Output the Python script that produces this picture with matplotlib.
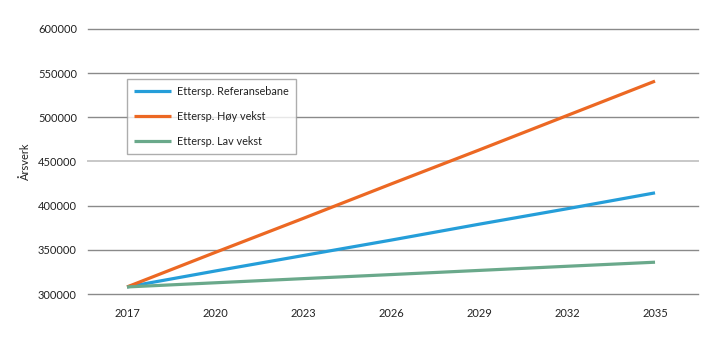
import numpy as np
import matplotlib
matplotlib.use('Agg')
import matplotlib.pyplot as plt

years = [2017, 2020, 2023, 2026, 2029, 2032, 2035]
ref = [308000, 326000, 343500, 361000, 379000, 396500, 414500]
hoy = [308000, 347000, 385500, 424500, 463000, 502000, 541000]
lav = [308000, 312700, 317400, 322000, 326700, 331400, 336000]
labels = ['Ettersp. Referansebane', 'Ettersp. Høy vekst', 'Ettersp. Lav vekst']
colors = ['#259ed9', '#ec6823', '#6aa98b']

plt.rcParams['font.family'] = ['Lato', 'DejaVu Sans']
fig = plt.figure(figsize=(7.19, 3.41), dpi=100)
ax = fig.add_axes([0.1224, 0.1378, 0.8486, 0.7772])

for vals, lab, c in zip([ref, hoy, lav], labels, colors):
    ax.plot(years, vals, color=c, lw=2.3, label=lab, solid_capstyle='butt')

ax.set_ylim(300000, 600000)
ax.set_xlim(2015.67, 2036.47)
ax.set_yticks(np.arange(300000, 600001, 50000))
ax.set_xticks(years)
ax.set_yticklabels([str(v) for v in range(300000, 600001, 50000)])
ax.tick_params(length=0, labelsize=8, colors='#222222')
ax.tick_params(axis='y', pad=8)
ax.tick_params(axis='x', pad=10)
ax.grid(axis='y', color='#8a8a8a', lw=1)
ax.set_axisbelow(True)
for gl in ax.get_ygridlines():
    gl.set_clip_on(False)
ax.get_ygridlines()[3].set_color('#c8c8c8')
ax.get_ygridlines()[3].set_linewidth(1.4)
for s in ax.spines.values():
    s.set_visible(False)
ax.set_ylabel('Årsverk', fontsize=8, labelpad=5, color='#222222')

leg = ax.legend(loc='upper left', bbox_to_anchor=(0.064, 0.813), fontsize=7.8,
                frameon=True, fancybox=False, shadow=False, handlelength=3.4,
                labelspacing=1.3, borderpad=0.65, handletextpad=0.6,
                borderaxespad=0)
leg.get_frame().set_edgecolor('#999999')
leg.get_frame().set_linewidth(1)
for t in leg.get_texts():
    t.set_color('#222222')

fig.savefig('out.png', dpi=100)
